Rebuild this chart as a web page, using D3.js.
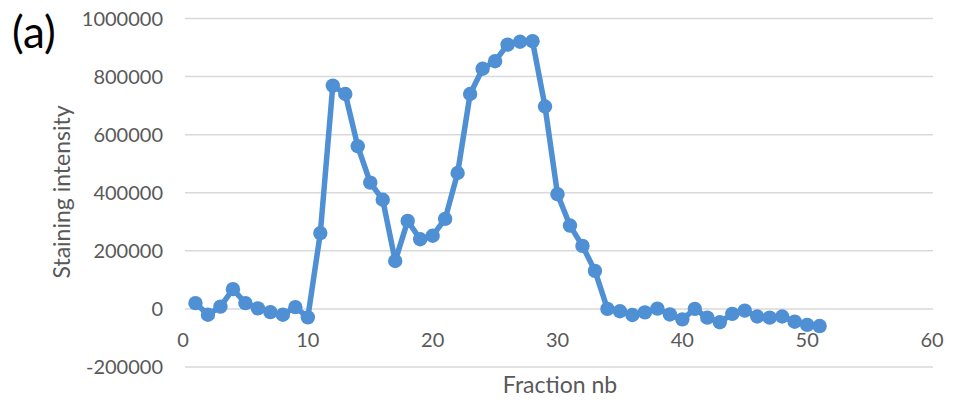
<!DOCTYPE html>
<html><head><meta charset="utf-8">
<script src="https://cdn.jsdelivr.net/npm/d3@7"></script>
<style>
body{margin:0;background:#fff;}
text{font-family:Lato, "Open Sans", sans-serif;}
</style></head>
<body><svg id="c" width="953" height="408"></svg>
<script>
const fractions = d3.range(1, 52);
const intensity = [20000,-20000,8000,68000,20000,2000,-11000,-20000,6000,-29000,
261000,769000,740000,560000,435000,376000,165000,303000,240000,252000,
310000,468000,740000,827000,853000,910000,920000,922000,697000,395000,
287000,217000,131000,0,-8000,-21000,-12000,1000,-19000,-36000,
0,-30000,-46000,-17000,-6000,-26000,-30000,-26000,-44000,-55000,-59000];
const xTicks = [0,10,20,30,40,50,60];
const yTicks = [-200000,0,200000,400000,600000,800000,1000000];

const svg = d3.select("#c");
const x = d3.scaleLinear().domain([0,60]).range([183,932]);
const y = d3.scaleLinear().domain([-200000,1000000]).range([367,18.5]);
const grey = "#595959";

svg.append("g").selectAll("line").data(yTicks).join("line")
  .attr("x1",185).attr("x2",933)
  .attr("y1",d=>y(d)).attr("y2",d=>y(d))
  .attr("stroke","#d9d9d9").attr("stroke-width",1.5);

svg.append("g").selectAll("text").data(yTicks).join("text")
  .attr("x",163).attr("y",d=>y(d)).attr("dy","0.35em")
  .attr("text-anchor","end").attr("font-size",20).attr("fill",grey)
  .text(d=>d);

svg.append("g").selectAll("text").data(xTicks).join("text")
  .attr("x",d=>x(d)).attr("y",y(0)+31).attr("dy","0.35em")
  .attr("text-anchor","middle").attr("font-size",20).attr("fill",grey)
  .text(d=>d);

svg.append("text").attr("x",560).attr("y",393).attr("text-anchor","middle")
  .attr("font-size",23).attr("fill",grey).text("Fraction nb");
svg.append("text").attr("transform","translate(70,192) rotate(-90)")
  .attr("text-anchor","middle").attr("font-size",23).attr("fill",grey).text("Staining intensity");

svg.append("text").attr("x",12).attr("y",48).attr("font-size",44).attr("fill","#000").text("(a)");

const data = fractions.map((f,i)=>({f, v:intensity[i]}));
const color = "#4f8fd4";
svg.append("path").datum(data)
  .attr("d", d3.line().x(d=>x(d.f)).y(d=>y(d.v)))
  .attr("fill","none").attr("stroke",color).attr("stroke-width",5.5)
  .attr("stroke-linejoin","round");
svg.append("g").selectAll("circle").data(data).join("circle")
  .attr("cx",d=>x(d.f)).attr("cy",d=>y(d.v)).attr("r",7.2)
  .attr("fill",color);
</script></body></html>
